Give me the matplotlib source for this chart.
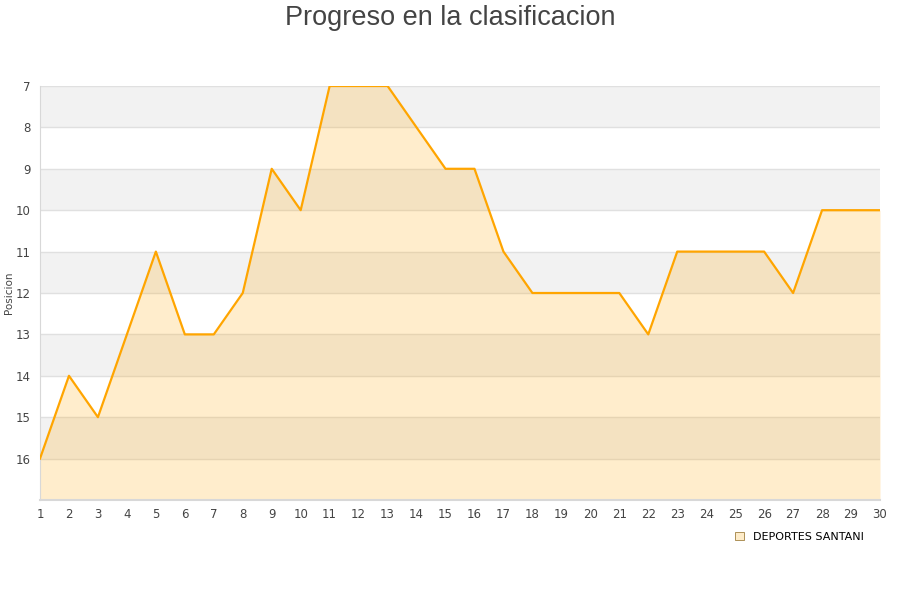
import matplotlib
matplotlib.use("Agg")
import matplotlib.pyplot as plt
from matplotlib.patches import Patch

# Jornadas y posiciones
jornadas = list(range(1, 31))
posiciones = [16, 14, 15, 13, 11, 13, 13, 12, 9, 10,
              7, 7, 7, 8, 9, 9, 11, 12, 12, 12,
              12, 13, 11, 11, 11, 11, 12, 10, 10, 10]
equipo = "DEPORTES SANTANI"

y_min, y_max = 7, 17
linea = "#ffa500"
texto = "#444444"

fig = plt.figure(figsize=(9, 6), dpi=100)
ax = fig.add_axes([40 / 900, 100 / 600, 840 / 900, 414 / 600])

# bandas alternas
for y in range(y_min, y_max):
    if (y - y_min) % 2 == 0:
        ax.axhspan(y, y + 1, color="#f2f2f2", lw=0, zorder=0)
for y in range(y_min, y_max + 1):
    ax.axhline(y, color="#e0e0e0", lw=1, zorder=1)

ax.fill_between(jornadas, posiciones, y_max, color=linea, alpha=0.2, lw=0, zorder=2)
ax.plot(jornadas, posiciones, color=linea, lw=1.6, zorder=3)

ax.set_xlim(1, 30)
ax.set_ylim(y_max, y_min)
ax.set_xticks(jornadas)
ax.set_yticks(range(y_min, y_max))
ax.tick_params(axis="both", length=0, colors=texto, labelsize=8.5)
ax.tick_params(axis="x", pad=6)
ax.tick_params(axis="y", pad=7)

for s in ["top", "right"]:
    ax.spines[s].set_visible(False)
ax.spines["left"].set_color("#d8d8d8")
ax.spines["bottom"].set_color("#d8d8d8")
ax.spines["bottom"].set_linewidth(1.5)

ax.set_ylabel("Posicion", fontsize=7.5, color=texto)
ax.yaxis.set_label_coords(-0.0315, 0.5)

fig.text(0.5, 0.992, "Progreso en la clasificacion", ha="center", va="top",
         fontsize=19.5, color=texto, family="Liberation Sans")

leg = fig.legend(handles=[Patch(facecolor="#feecc9", edgecolor="#a08040", lw=0.6, label=equipo)],
                 loc="center left", bbox_to_anchor=(725 / 900, 1 - 537 / 600),
                 frameon=False, fontsize=8, handlelength=0.8, handleheight=0.8,
                 handletextpad=0.8)

fig.savefig("out.png", dpi=100)
